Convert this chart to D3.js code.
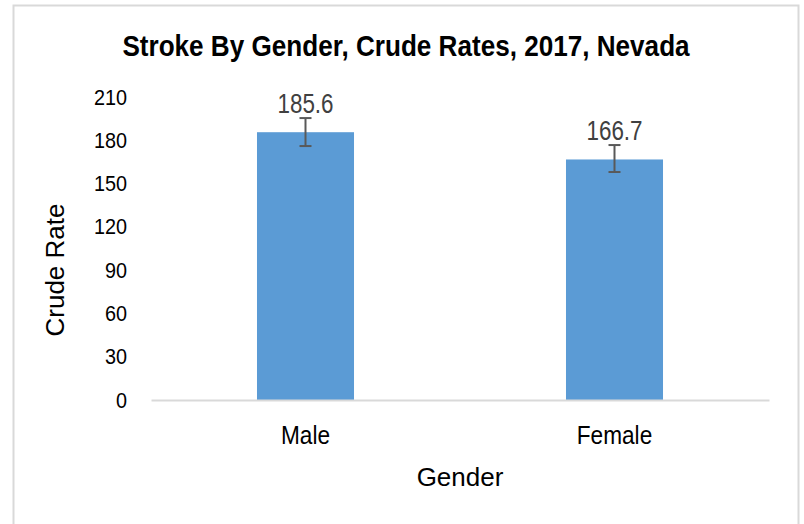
<!DOCTYPE html>
<html>
<head>
<meta charset="utf-8">
<script src="https://cdn.jsdelivr.net/npm/d3@7"></script>
<style>
  html, body { margin: 0; padding: 0; background: #fff; }
  svg { display: block; font-family: "Liberation Sans", Arial, sans-serif; }
</style>
</head>
<body>
<div id="container"></div>
<script>
// chart data
const categories = ['Male', 'Female'];
const rates = [185.6, 166.7];
const errLow = [176.0, 158.0];
const errHigh = [195.4, 176.7];
const yTicks = [0, 30, 60, 90, 120, 150, 180, 210];

const width = 804;
const height = 524;
const margin = { top: 97, right: 35, bottom: 124, left: 151 };
const plotW = width - margin.left - margin.right;
const plotH = height - margin.top - margin.bottom;

const svg = d3.select('#container').append('svg')
    .attr('width', width)
    .attr('height', height);

// outer chart frame
svg.append('rect')
    .attr('x', 13.5).attr('y', 5.5)
    .attr('width', 785).attr('height', 530)
    .attr('fill', 'none')
    .attr('stroke', '#d9d9d9')
    .attr('stroke-width', 2);

const g = svg.append('g')
    .attr('transform', `translate(${margin.left},${margin.top})`);

const x = d3.scaleBand()
    .domain(categories)
    .range([0, plotW])
    .padding(0);

const y = d3.scaleLinear()
    .domain([0, 210])
    .range([plotH, 0]);

const barW = x.bandwidth() * 0.314;

// shrink text horizontally, the original uses a narrow face
function squeeze(sel, k) {
    sel.each(function() {
        const len = this.getComputedTextLength();
        d3.select(this)
            .attr('textLength', len * k)
            .attr('lengthAdjust', 'spacingAndGlyphs');
    });
}

// y axis labels (no line, no ticks)
const yAxis = g.append('g')
    .call(d3.axisLeft(y).tickValues(yTicks).tickSize(0).tickPadding(24));
yAxis.select('.domain').remove();
yAxis.selectAll('text')
    .attr('font-size', 22)
    .attr('fill', '#000')
    .attr('font-family', '"Liberation Sans", Arial, sans-serif')
    .call(squeeze, 0.9);

// bars
g.selectAll('rect.bar')
    .data(categories)
    .enter()
    .append('rect')
    .attr('class', 'bar')
    .attr('x', d => x(d) + x.bandwidth() / 2 - barW / 2)
    .attr('y', (d, i) => y(rates[i]))
    .attr('width', barW)
    .attr('height', (d, i) => plotH - y(rates[i]))
    .attr('fill', '#5b9bd5');

// baseline
const xAxis = g.append('g')
    .attr('transform', `translate(0,${plotH})`)
    .call(d3.axisBottom(x).tickSize(0).tickPadding(26));
xAxis.select('.domain')
    .attr('stroke', '#d9d9d9')
    .attr('stroke-width', 2);
xAxis.selectAll('text')
    .attr('font-size', 26)
    .attr('fill', '#000')
    .attr('font-family', '"Liberation Sans", Arial, sans-serif')
    .call(squeeze, 0.87);

// error bars
const capW = 12;
const eb = g.append('g')
    .attr('stroke', '#595959')
    .attr('stroke-width', 2);
categories.forEach((c, i) => {
    const cx = x(c) + x.bandwidth() / 2;
    eb.append('line')
        .attr('x1', cx).attr('x2', cx)
        .attr('y1', y(errHigh[i])).attr('y2', y(errLow[i]));
    eb.append('line')
        .attr('x1', cx - capW / 2).attr('x2', cx + capW / 2)
        .attr('y1', y(errHigh[i])).attr('y2', y(errHigh[i]));
    eb.append('line')
        .attr('x1', cx - capW / 2).attr('x2', cx + capW / 2)
        .attr('y1', y(errLow[i])).attr('y2', y(errLow[i]));
});

// value labels
g.selectAll('text.val')
    .data(categories)
    .enter()
    .append('text')
    .attr('class', 'val')
    .attr('x', d => x(d) + x.bandwidth() / 2)
    .attr('y', (d, i) => y(errHigh[i]) - 5)
    .attr('text-anchor', 'middle')
    .attr('font-size', 28)
    .attr('fill', '#404040')
    .text((d, i) => rates[i].toFixed(1))
    .call(squeeze, 0.8);

// title
svg.append('text')
    .attr('x', 406)
    .attr('y', 56)
    .attr('text-anchor', 'middle')
    .attr('font-size', 30)
    .attr('font-weight', 'bold')
    .attr('fill', '#000')
    .text('Stroke By Gender, Crude Rates, 2017, Nevada')
    .call(squeeze, 0.87);

// axis titles
svg.append('text')
    .attr('x', margin.left + plotW / 2)
    .attr('y', 486)
    .attr('text-anchor', 'middle')
    .attr('font-size', 26)
    .attr('fill', '#000')
    .text('Gender');

svg.append('text')
    .attr('transform', 'translate(64,270) rotate(-90)')
    .attr('text-anchor', 'middle')
    .attr('font-size', 26)
    .attr('fill', '#000')
    .text('Crude Rate');
</script>
</body>
</html>
